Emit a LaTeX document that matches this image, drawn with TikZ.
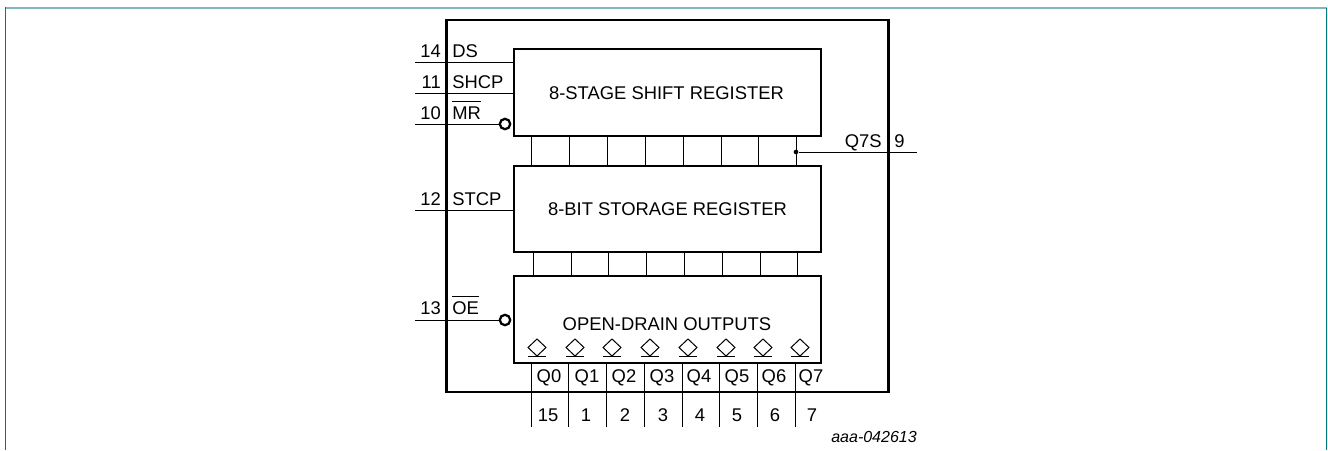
\documentclass[tikz,border=0pt]{standalone}
\usepackage{fontspec}
\setmainfont{Liberation Sans}
\usetikzlibrary{shapes.geometric}
\definecolor{frameDark}{HTML}{007A80}
\definecolor{frameLight}{HTML}{7FB8BC}
\tikzset{
  regbox/.style={draw, line width=2pt, outer sep=0pt, minimum width=230.25pt, align=center, font=\fontsize{13.8}{16}\selectfont},
  wire/.style={line width=0.75pt},
  bubble/.style={circle, draw, fill=white, line width=1.7pt, minimum size=7.8pt, inner sep=0pt, outer sep=0pt},
  outdiamond/.style={diamond, draw, line width=0.75pt, minimum width=13.5pt, minimum height=12.75pt, inner sep=0pt, outer sep=0pt},
  pinlabel/.style={inner sep=0pt, font=\fontsize{13.8}{16}\selectfont},
}
\newcommand{\barred}[1]{$\overline{\mbox{\rule{0pt}{12pt}#1}}$}

\begin{document}
\begin{tikzpicture}[x=0.75pt, y=-0.75pt]
\useasboundingbox (0,0) rectangle (1328,450);

% Frame
\draw [frameLight, line width=1.5pt] (5,8) -- (1327,8);
\draw [frameDark, line width=1pt] (5.5,7) -- (5.5,450);
\draw [frameDark, line width=1pt] (1326.5,8) -- (1326.5,450);

% Chip
\node (chip) [draw, line width=2pt, outer sep=0pt, minimum width=331.5pt, minimum height=279pt] at (667.5,206) {};

% Registers
\node (shift) [regbox, minimum height=65.25pt] at (667.5,92.5) {};
\node (shiftText) [pinlabel] at (666.5,93.5) {8-STAGE SHIFT REGISTER};
\node (store) [regbox, minimum height=64.5pt] at (667.5,209) {8-BIT STORAGE REGISTER};
\node (outs) [regbox, minimum height=65.25pt] at (667.5,319.5) {};
\node (outsText) [pinlabel] at (667,324) {OPEN-DRAIN OUTPUTS};

% Buses
\foreach \x in {531,569,607,645,683,721,758,796}
  \draw [wire] (shift.south -| \x,0) -- (store.north -| \x,0);
\foreach \x in {533,571,608,646,684,722,760,797}
  \draw [wire] (store.south -| \x,0) -- (outs.north -| \x,0);

% Inputs
\foreach \name/\y/\b/\num/\txt in {ds/62/57/14/DS, shcp/93/88/11/SHCP, stcp/210/205/12/STCP} {
  \coordinate (\name) at (415,\y);
  \draw [wire] (\name) -- (\name -| shift.west);
  \node (\name Num) [pinlabel, anchor=base east] at (441,\b) {\num};
  \node (\name Txt) [pinlabel, anchor=base west] at (452,\b) {\txt};
}
\node (mrBubble) [bubble] at (505,124) {};
\node (oeBubble) [bubble] at (505,320) {};
\coordinate (mr) at (415,124);
\coordinate (oe) at (415,320);
\draw [wire] (mr) -- (mrBubble);
\draw [wire] (oe) -- (oeBubble);
\node (mrNum) [pinlabel, anchor=base east] at (441,119) {10};
\node (mrTxt) [pinlabel, anchor=base west] at (452,119) {\barred{MR}};
\node (oeNum) [pinlabel, anchor=base east] at (441,314) {13};
\node (oeTxt) [pinlabel, anchor=base west] at (452,314) {\barred{OE}};

% Serial out
\node (tap) [circle, fill, minimum size=3.5pt, inner sep=0pt] at (796,152) {};
\coordinate (q7s) at (917,152);
\draw [wire] (tap) -- (q7s);
\node (q7sTxt) [pinlabel, anchor=base east] at (882,147) {Q7S};
\node (q7sNum) [pinlabel, anchor=base west] at (894,147) {9};

% Outputs
\foreach \dx/\px/\qx/\nx/\lab/\num [count=\i] in {537/531/549/548/Q0/15, 575/568/587/586/Q1/1, 612/606/624/625/Q2/2, 650/644/662/663/Q3/3, 688/682/699/700/Q4/4, 726/719/737/737/Q5/5, 763/757/774/775/Q6/6, 800/795/811/812/Q7/7} {
  \node (dia\i) [outdiamond] at (\dx,347.5) {};
  \draw [line width=0.75pt] ([xshift=-6.5pt]dia\i.south) -- ([xshift=6.5pt]dia\i.south);
  \coordinate (out\i) at (\px,427);
  \draw [wire] (outs.south -| out\i) -- (out\i);
  \node (q\i) [pinlabel, anchor=base] at (\qx,382) {\lab};
  \node (n\i) [pinlabel, anchor=base] at (\nx,421) {\num};
}

% Drawing code
\node (code) [pinlabel, anchor=base east, font=\fontsize{12}{14}\selectfont\itshape] at (917,442) {aaa-042613};

\end{tikzpicture}
\end{document}
